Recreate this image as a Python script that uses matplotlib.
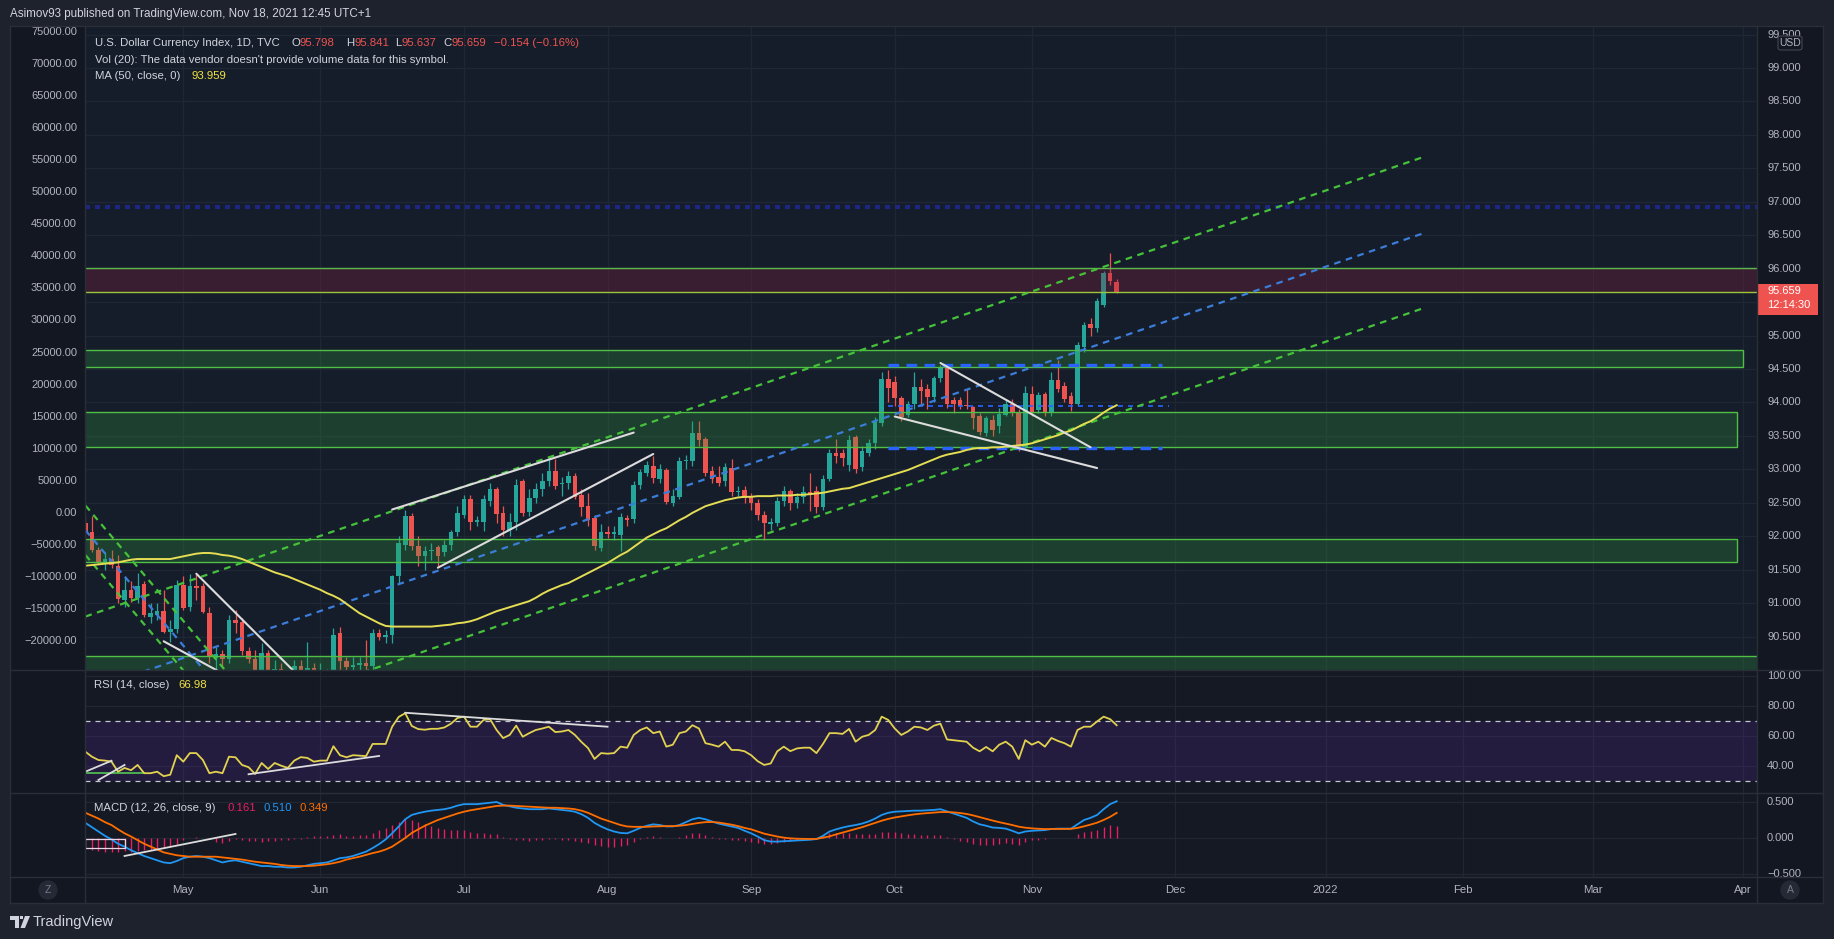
import matplotlib
matplotlib.use("Agg")
import matplotlib.pyplot as plt
import numpy as np
import pandas as pd
from matplotlib.patches import Rectangle, FancyBboxPatch, Polygon
from matplotlib.lines import Line2D
from matplotlib.colors import to_rgba

plt.rcParams['font.family'] = ['Liberation Sans', 'DejaVu Sans']

# ------------------------------------------------------------------ DATA
first_bar = "2021-04-12"   # daily bars (weekdays), Apr 12 2021 -> Nov 18 2021

opens = [92.20, 92.06, 91.80, 91.60, 91.66, 91.56, 91.04, 91.20, 91.08, 91.28,
         90.80, 90.83, 90.88, 90.57, 90.62, 91.27, 90.94, 91.26, 91.25, 90.86,
         90.18, 90.24, 90.17, 90.75, 90.72, 90.28, 90.16, 89.87, 90.25, 89.80,
         90.02, 89.83, 89.66, 90.06, 89.97, 90.03, 89.83, 89.91, 89.93, 90.55,
         90.13, 90.04, 90.08, 90.10, 90.06, 90.55, 90.50, 90.52, 91.40, 91.87,
         92.30, 91.85, 91.71, 91.78, 91.84, 91.77, 91.87, 92.07, 92.32, 92.56,
         92.22, 92.22, 92.52, 92.70, 92.35, 92.10, 92.22, 92.82, 92.37, 92.57,
         92.70, 92.82, 92.97, 92.78, 92.80, 92.90, 92.62, 92.46, 92.28, 91.83,
         92.07, 92.03, 92.02, 92.28, 92.26, 92.77, 92.95, 93.05, 92.86, 92.99,
         92.50, 92.59, 93.12, 93.12, 93.55, 93.45, 92.98, 92.88, 92.82, 93.02,
         92.66, 92.69, 92.59, 92.50, 92.32, 92.18, 92.20, 92.52, 92.67, 92.50,
         92.58, 92.66, 92.67, 92.44, 92.86, 93.25, 93.25, 93.07, 93.49, 93.04,
         93.25, 93.39, 93.70, 94.35, 94.31, 94.07, 93.82, 93.97, 94.23, 94.20,
         94.08, 94.37, 94.52, 94.03, 94.03, 93.96, 93.93, 93.80, 93.55, 93.74,
         93.65, 93.82, 93.97, 93.86, 93.34, 94.13, 93.89, 94.13, 93.85, 94.34,
         94.25, 94.09, 93.97, 94.83, 95.18, 95.12, 95.46, 95.94, 95.798]
highs = [92.32, 92.30, 91.84, 91.76, 91.80, 91.72, 91.40, 91.33, 91.45, 91.33,
         91.00, 91.00, 91.20, 90.75, 91.34, 91.40, 91.43, 91.43, 91.30, 90.95,
         90.35, 90.30, 90.82, 90.90, 90.78, 90.35, 90.30, 90.40, 90.30, 90.15,
         90.10, 89.95, 90.15, 90.15, 90.42, 90.10, 90.10, 90.02, 90.63, 90.65,
         90.20, 90.20, 90.20, 90.45, 90.62, 90.62, 90.60, 91.42, 92.00, 92.40,
         92.35, 92.00, 91.86, 91.90, 91.87, 91.95, 92.10, 92.45, 92.62, 92.62,
         92.30, 92.62, 92.80, 92.74, 92.45, 92.35, 92.85, 92.85, 92.70, 92.80,
         92.95, 93.20, 93.15, 92.88, 92.98, 92.95, 92.70, 92.65, 92.32, 92.18,
         92.15, 92.15, 92.35, 92.32, 92.82, 93.00, 93.12, 93.20, 93.08, 93.02,
         92.70, 93.18, 93.22, 93.73, 93.73, 93.48, 93.05, 93.05, 93.10, 93.15,
         92.75, 92.75, 92.65, 92.55, 92.38, 92.28, 92.58, 92.75, 92.70, 92.65,
         92.75, 92.95, 92.75, 92.92, 93.30, 93.45, 93.30, 93.52, 93.52, 93.35,
         93.45, 93.78, 94.45, 94.48, 94.40, 94.10, 94.02, 94.45, 94.35, 94.28,
         94.40, 94.56, 94.56, 94.08, 94.08, 94.20, 93.95, 93.85, 93.80, 93.82,
         93.92, 94.05, 94.05, 93.90, 94.24, 94.24, 94.15, 94.15, 94.45, 94.64,
         94.30, 94.15, 94.90, 95.20, 95.27, 95.56, 95.97, 96.24, 95.841]
lows = [92.02, 91.76, 91.58, 91.50, 91.52, 91.00, 90.95, 91.02, 91.00, 90.80,
        90.70, 90.75, 90.55, 90.42, 90.55, 90.90, 90.88, 91.05, 90.85, 90.10,
        90.00, 90.05, 90.10, 90.55, 90.22, 90.10, 89.70, 89.70, 89.75, 89.70,
        89.80, 89.53, 89.60, 89.85, 89.90, 89.80, 89.66, 89.80, 89.90, 90.00,
        89.90, 89.95, 89.95, 89.93, 90.00, 90.45, 90.40, 90.40, 91.30, 91.80,
        91.80, 91.55, 91.50, 91.65, 91.55, 91.70, 91.80, 92.00, 92.28, 92.10,
        92.15, 92.08, 92.45, 92.20, 92.00, 92.00, 92.10, 92.30, 92.30, 92.50,
        92.60, 92.75, 92.70, 92.60, 92.70, 92.55, 92.30, 92.15, 91.80, 91.78,
        91.98, 91.95, 91.78, 92.15, 92.20, 92.70, 92.90, 92.80, 92.80, 92.48,
        92.45, 92.55, 93.00, 93.05, 93.35, 92.90, 92.80, 92.75, 92.75, 92.60,
        92.60, 92.50, 92.40, 92.25, 91.95, 92.10, 92.15, 92.45, 92.40, 92.42,
        92.50, 92.38, 92.35, 92.40, 92.82, 93.10, 93.05, 92.98, 92.95, 92.98,
        93.20, 93.30, 93.65, 94.00, 93.95, 93.73, 93.78, 93.90, 93.97, 93.90,
        94.00, 94.30, 93.92, 93.85, 93.90, 93.90, 93.60, 93.52, 93.50, 93.50,
        93.55, 93.80, 93.80, 93.28, 93.30, 93.80, 93.85, 93.80, 93.80, 94.15,
        94.00, 93.88, 93.95, 94.75, 95.00, 95.05, 95.42, 95.75, 95.637]
closes = [92.06, 91.79, 91.61, 91.66, 91.57, 91.06, 91.20, 91.08, 91.26, 90.82,
          90.86, 90.88, 90.57, 90.62, 91.27, 90.93, 91.25, 91.23, 90.87, 90.21,
          90.24, 90.17, 90.75, 90.70, 90.28, 90.16, 89.87, 90.25, 89.80, 90.02,
          89.83, 89.66, 90.06, 89.97, 90.03, 89.83, 89.91, 89.92, 90.52, 90.13,
          90.04, 90.08, 90.10, 90.06, 90.55, 90.50, 90.53, 91.40, 91.90, 92.30,
          91.85, 91.70, 91.78, 91.80, 91.70, 91.87, 92.07, 92.35, 92.55, 92.22,
          92.25, 92.55, 92.70, 92.34, 92.10, 92.22, 92.77, 92.35, 92.57, 92.71,
          92.82, 92.97, 92.75, 92.80, 92.90, 92.59, 92.44, 92.25, 91.86, 92.07,
          92.04, 92.07, 92.29, 92.25, 92.77, 92.96, 93.06, 92.87, 93.01, 92.51,
          92.60, 93.13, 93.14, 93.55, 93.44, 92.95, 92.86, 92.80, 93.04, 92.66,
          92.68, 92.57, 92.50, 92.32, 92.20, 92.22, 92.52, 92.67, 92.50, 92.58,
          92.66, 92.62, 92.44, 92.86, 93.25, 93.20, 93.17, 93.44, 93.00, 93.28,
          93.39, 93.71, 94.35, 94.22, 94.06, 93.79, 93.97, 94.23, 94.17, 94.08,
          94.37, 94.52, 93.98, 93.97, 93.95, 93.94, 93.77, 93.56, 93.77, 93.59,
          93.83, 93.97, 93.84, 93.32, 94.14, 93.85, 94.11, 93.85, 94.33, 94.20,
          94.05, 93.97, 94.86, 95.16, 95.12, 95.52, 95.94, 95.813, 95.659]
ma50 = [91.56, 91.57, 91.58, 91.59, 91.60, 91.61, 91.63, 91.65, 91.66, 91.66,
        91.66, 91.66, 91.66, 91.66, 91.68, 91.70, 91.72, 91.74, 91.75, 91.75,
        91.74, 91.72, 91.71, 91.69, 91.66, 91.62, 91.58, 91.54, 91.50, 91.46,
        91.43, 91.40, 91.36, 91.32, 91.28, 91.24, 91.20, 91.15, 91.11, 91.06,
        90.99, 90.92, 90.85, 90.80, 90.75, 90.70, 90.66, 90.65, 90.65, 90.65,
        90.65, 90.65, 90.65, 90.65, 90.66, 90.67, 90.68, 90.70, 90.71, 90.73,
        90.76, 90.80, 90.84, 90.88, 90.91, 90.94, 90.97, 91.00, 91.03, 91.08,
        91.14, 91.19, 91.23, 91.27, 91.30, 91.35, 91.40, 91.45, 91.50, 91.55,
        91.60, 91.66, 91.72, 91.77, 91.84, 91.91, 91.98, 92.03, 92.08, 92.12,
        92.18, 92.24, 92.29, 92.35, 92.40, 92.45, 92.48, 92.51, 92.54, 92.56,
        92.58, 92.59, 92.59, 92.60, 92.60, 92.60, 92.61, 92.61, 92.61, 92.62,
        92.62, 92.63, 92.64, 92.65, 92.67, 92.69, 92.71, 92.72, 92.75, 92.78,
        92.81, 92.84, 92.87, 92.90, 92.93, 92.96, 92.99, 93.03, 93.07, 93.11,
        93.15, 93.19, 93.22, 93.24, 93.26, 93.29, 93.31, 93.32, 93.32, 93.33,
        93.33, 93.34, 93.35, 93.36, 93.37, 93.39, 93.42, 93.45, 93.48, 93.51,
        93.55, 93.58, 93.63, 93.68, 93.72, 93.78, 93.85, 93.91, 93.959]
rsi = [49.3, 46.0, 43.8, 43.4, 42.7, 36.0, 38.5, 37.0, 40.5, 35.0,
       35.0, 36.0, 33.0, 34.0, 47.0, 42.7, 48.4, 48.4, 43.8, 35.0,
       36.0, 35.0, 46.0, 45.6, 40.5, 39.0, 34.5, 41.8, 37.8, 41.8,
       40.0, 38.5, 43.4, 45.7, 45.2, 42.7, 43.4, 43.4, 53.0, 47.0,
       45.6, 47.0, 46.7, 46.4, 54.5, 54.5, 54.5, 66.0, 72.5, 75.0,
       66.5, 64.4, 64.0, 64.6, 64.6, 65.5, 68.0, 71.8, 72.7, 66.0,
       66.0, 70.5, 71.0, 63.8, 58.4, 60.5, 66.7, 59.3, 61.7, 63.8,
       64.8, 66.0, 62.4, 62.8, 63.8, 60.5, 55.8, 51.8, 44.5, 48.4,
       48.0, 48.4, 52.7, 52.0, 60.5, 63.8, 65.5, 61.7, 62.8, 52.7,
       54.0, 61.7, 62.8, 67.0, 64.8, 55.0, 54.0, 52.7, 56.0, 50.5,
       50.5, 49.6, 47.0, 43.0, 40.5, 41.5, 49.6, 52.7, 49.7, 51.5,
       52.0, 52.0, 48.4, 54.5, 61.7, 61.7, 61.2, 64.5, 56.0, 59.3,
       60.5, 63.8, 72.7, 70.5, 64.8, 60.5, 62.8, 66.0, 65.5, 63.8,
       66.7, 68.0, 57.5, 57.0, 56.5, 56.0, 52.0, 49.6, 52.5, 49.6,
       54.0, 56.0, 52.7, 44.5, 57.0, 54.0, 56.0, 52.7, 58.5, 56.5,
       55.0, 52.7, 63.8, 66.0, 66.0, 69.5, 72.7, 71.0, 66.98]
macd = [0.21, 0.15, 0.09, 0.03, -0.02, -0.08, -0.12, -0.17, -0.21, -0.25,
        -0.28, -0.31, -0.34, -0.35, -0.32, -0.28, -0.26, -0.25, -0.26, -0.28,
        -0.31, -0.34, -0.32, -0.31, -0.33, -0.35, -0.37, -0.39, -0.39, -0.40,
        -0.40, -0.41, -0.41, -0.40, -0.38, -0.36, -0.35, -0.34, -0.31, -0.28,
        -0.27, -0.25, -0.22, -0.19, -0.14, -0.085, -0.02, 0.065, 0.16, 0.26,
        0.32, 0.345, 0.365, 0.38, 0.39, 0.40, 0.42, 0.45, 0.47, 0.47,
        0.47, 0.48, 0.49, 0.50, 0.46, 0.44, 0.42, 0.41, 0.40, 0.40,
        0.40, 0.41, 0.40, 0.39, 0.38, 0.365, 0.33, 0.28, 0.21, 0.16,
        0.12, 0.09, 0.07, 0.065, 0.10, 0.14, 0.17, 0.19, 0.18, 0.16,
        0.16, 0.18, 0.22, 0.26, 0.28, 0.26, 0.23, 0.20, 0.18, 0.16,
        0.14, 0.10, 0.065, 0.02, -0.03, -0.05, -0.05, -0.045, -0.04, -0.035,
        -0.03, -0.025, -0.015, 0.03, 0.09, 0.12, 0.145, 0.165, 0.18, 0.20,
        0.23, 0.27, 0.32, 0.35, 0.365, 0.37, 0.375, 0.38, 0.38, 0.385,
        0.39, 0.40, 0.37, 0.34, 0.31, 0.28, 0.23, 0.19, 0.17, 0.145,
        0.14, 0.13, 0.10, 0.065, 0.09, 0.10, 0.105, 0.11, 0.125, 0.13,
        0.13, 0.13, 0.19, 0.25, 0.28, 0.32, 0.40, 0.47, 0.510]
signal = [0.35, 0.31, 0.27, 0.22, 0.18, 0.12, 0.065, 0.02, -0.03, -0.08,
          -0.12, -0.16, -0.20, -0.22, -0.24, -0.25, -0.26, -0.26, -0.26, -0.26,
          -0.26, -0.27, -0.28, -0.29, -0.30, -0.315, -0.33, -0.34, -0.35, -0.36,
          -0.375, -0.385, -0.39, -0.39, -0.39, -0.385, -0.375, -0.365, -0.35, -0.33,
          -0.30, -0.28, -0.26, -0.235, -0.21, -0.19, -0.16, -0.12, -0.06, 0.0,
          0.07, 0.12, 0.17, 0.21, 0.25, 0.28, 0.31, 0.34, 0.365, 0.385,
          0.40, 0.415, 0.43, 0.445, 0.45, 0.45, 0.445, 0.44, 0.435, 0.43,
          0.425, 0.42, 0.42, 0.415, 0.41, 0.40, 0.38, 0.35, 0.31, 0.27,
          0.24, 0.21, 0.18, 0.16, 0.155, 0.155, 0.155, 0.16, 0.163, 0.165,
          0.165, 0.17, 0.18, 0.195, 0.21, 0.22, 0.222, 0.215, 0.20, 0.185,
          0.165, 0.14, 0.12, 0.09, 0.06, 0.04, 0.02, 0.005, -0.005, -0.01,
          -0.012, -0.014, -0.013, 0.005, 0.022, 0.05, 0.075, 0.10, 0.125, 0.15,
          0.18, 0.21, 0.24, 0.265, 0.285, 0.30, 0.315, 0.328, 0.338, 0.346,
          0.353, 0.36, 0.36, 0.356, 0.347, 0.334, 0.314, 0.29, 0.266, 0.242,
          0.22, 0.20, 0.18, 0.157, 0.143, 0.134, 0.128, 0.124, 0.124, 0.125,
          0.126, 0.127, 0.14, 0.162, 0.186, 0.213, 0.25, 0.294, 0.349]

month_starts = ["2021-05-03", "2021-06-01", "2021-07-01", "2021-08-02", "2021-09-01",
                "2021-10-01", "2021-11-01", "2021-12-01", "2022-01-03", "2022-02-01",
                "2022-03-01", "2022-04-01"]
month_labels = ["May", "Jun", "Jul", "Aug", "Sep", "Oct", "Nov", "Dec", "2022", "Feb", "Mar", "Apr"]

price_ticks = [90.5, 91.0, 91.5, 92.0, 92.5, 93.0, 93.5, 94.0, 94.5, 95.0,
               95.5, 96.0, 96.5, 97.0, 97.5, 98.0, 98.5, 99.0, 99.5]
volume_ticks = [-20000, -15000, -10000, -5000, 0, 5000, 10000, 15000, 20000, 25000,
                30000, 35000, 40000, 45000, 50000, 55000, 60000, 65000, 70000, 75000]
rsi_ticks = [100, 80, 60, 40]
macd_ticks = [0.5, 0.0, -0.5]

# horizontal zones: low, high, last date
zone_lows = [95.65, 94.53, 93.33, 91.61, 89.00]
zone_highs = [96.01, 94.785, 93.855, 91.96, 90.21]
zone_ends = ["2022-04-29", "2022-04-01", "2022-03-31", "2022-03-31", "2022-04-29"]
zone_kinds = ["red", "green", "green", "green", "green"]

# rising parallel channel
channel_dates = ["2021-04-12", "2022-01-24"]
channel_upper = [90.80, 97.67]
channel_mid = [89.68, 96.53]
channel_lower = [88.54, 95.41]
# falling channel (April-May)
fall_dates = ["2021-04-12", "2021-05-18"]
fall_upper = [92.46, 89.47]
fall_mid = [92.09, 89.10]
fall_lower = [91.72, 88.73]

# horizontal blue levels
level_dates = ["2021-09-30", "2021-11-29"]
blue_levels = [94.56, 93.32]
thin_level = 93.95
thin_level_dates = ["2021-09-30", "2021-11-30"]
navy_level = 96.92

# white trend lines on price
price_trendlines = [("2021-05-05", 91.44, "2021-05-27", 89.88),
                    ("2021-04-28", 90.43, "2021-05-11", 89.95),
                    ("2021-06-16", 92.40, "2021-08-06", 93.55),
                    ("2021-06-25", 91.53, "2021-08-11", 93.23),
                    ("2021-10-12", 94.59, "2021-11-12", 93.33),
                    ("2021-10-01", 93.79, "2021-11-15", 93.02)]
rsi_trendlines = [("2021-04-12", 36.0, "2021-04-16", 43.3),
                  ("2021-04-14", 30.5, "2021-04-20", 40.5),
                  ("2021-05-17", 34.3, "2021-06-14", 46.5),
                  ("2021-06-18", 75.3, "2021-08-02", 66.0)]
rsi_green_line = ("2021-04-12", 35.0, "2021-04-23", 35.0)
macd_trendline = ("2021-04-20", -0.25, "2021-05-13", 0.056)
macd_box = ("2021-04-12", "2021-04-20", -0.143, -0.018)

# ------------------------------------------------------------------ SETUP
W, H = 1834, 939
BG_FIG = '#1e222d'
BG_AXIS = '#131722'
BG_MAIN = '#161d2a'
BG_SUB = '#141923'
GRID = '#1f2634'
SEP = '#2a2e39'
TXT = '#b2b5be'
LEG = '#d1d4dc'
UP = '#26a69a'
DN = '#ef5350'

dates = pd.bdate_range(first_bar, periods=320)
pos = {d.strftime('%Y-%m-%d'): i for i, d in enumerate(dates)}


def xi(s):
    return pos[s]


n = len(closes)
xs = np.arange(n)

fig = plt.figure(figsize=(W / 100, H / 100), dpi=100, facecolor=BG_FIG)


def frect(x0, y0, x1, y1):
    return [x0 / W, 1 - y1 / H, (x1 - x0) / W, (y1 - y0) / H]


def fx(x):
    return x / W


def fy(y):
    return 1 - y / H


def clean(a, face):
    a.set_facecolor(face)
    a.tick_params(left=False, bottom=False, right=False, top=False,
                  labelleft=False, labelbottom=False)
    for s in a.spines.values():
        s.set_visible(False)


XL = (-0.06, 256.1)
YMAIN = (90.001, 99.628)
YVOL = (-24524, 75936)
YRSI = (21.8, 103.8)
YMACD = (-0.542, 0.625)

ax = fig.add_axes(frect(85, 26, 1757, 670))
ax_rsi = fig.add_axes(frect(85, 670, 1757, 793))
ax_macd = fig.add_axes(frect(85, 793, 1757, 877))
ax_time = fig.add_axes(frect(85, 877, 1757, 903))
for a, face in [(ax, BG_MAIN), (ax_rsi, BG_SUB), (ax_macd, BG_SUB), (ax_time, BG_AXIS)]:
    clean(a, face)
    a.set_xlim(*XL)
ax.set_ylim(*YMAIN)
ax_rsi.set_ylim(*YRSI)
ax_macd.set_ylim(*YMACD)
ax_time.set_ylim(0, 1)

ax_l = fig.add_axes(frect(10, 26, 85, 670))
ax_r = fig.add_axes(frect(1757, 26, 1823, 670))
ax_lr = fig.add_axes(frect(10, 670, 85, 793))
ax_rr = fig.add_axes(frect(1757, 670, 1823, 793))
ax_lm = fig.add_axes(frect(10, 793, 85, 877))
ax_rm = fig.add_axes(frect(1757, 793, 1823, 877))
ax_lt = fig.add_axes(frect(10, 877, 85, 903))
ax_rt = fig.add_axes(frect(1757, 877, 1823, 903))
for a in [ax_l, ax_r, ax_lr, ax_rr, ax_lm, ax_rm, ax_lt, ax_rt]:
    clean(a, BG_AXIS)
    a.set_xlim(0, 1)
ax_l.set_ylim(*YVOL)
ax_r.set_ylim(*YMAIN)
ax_rr.set_ylim(*YRSI)
ax_rm.set_ylim(*YMACD)

# grids
mx = [xi(d) for d in month_starts]
for a in [ax, ax_rsi, ax_macd]:
    for m in mx:
        a.axvline(m, color=GRID, lw=0.9, zorder=0.5)
for p in price_ticks:
    ax.axhline(p, color=GRID, lw=0.9, zorder=0.5)
for r in rsi_ticks:
    ax_rsi.axhline(r, color=GRID, lw=0.9, zorder=0.5)
for m in macd_ticks:
    ax_macd.axhline(m, color=GRID, lw=0.9, zorder=0.5)

# ------------------------------------------------------------------ CANDLES
o = np.array(opens[:n]); h = np.array(highs[:n]); l = np.array(lows[:n]); c = np.array(closes[:n])
up = c >= o
cols = np.where(up, UP, DN)
bot = np.minimum(o, c)
hgt = np.maximum(np.abs(c - o), 0.012)
ax.vlines(xs, np.minimum(l, bot), np.maximum(h, bot + hgt), colors=cols, lw=0.9, zorder=2)
ax.bar(xs, hgt, bottom=bot, width=0.7, color=cols, edgecolor='none', zorder=2.1)

# ------------------------------------------------------------------ ZONES
x_left = -5
for lo, hi, end, kind in zip(zone_lows, zone_highs, zone_ends, zone_kinds):
    x1 = xi(end)
    if kind == 'red':
        ax.add_patch(Rectangle((x_left, lo), x1 - x_left, hi - lo,
                               facecolor=to_rgba('#8b1e3f', 0.30), edgecolor='none', zorder=3))
        ax.plot([x_left, x1], [hi, hi], color='#5cb84a', lw=1.0, zorder=3.2)
        ax.plot([x_left, x1], [lo, lo], color='#9cc63a', lw=1.0, zorder=3.2)
    else:
        ax.add_patch(Rectangle((x_left, lo), x1 - x_left, hi - lo,
                               facecolor=to_rgba('#2e9e3e', 0.27),
                               edgecolor='#4fbf45', lw=1.0, zorder=3))

# navy dotted level
ax.axhline(navy_level, color='#1d2683', lw=3.0, ls=(0, (1.2, 1.2)), zorder=3.5)

# blue levels
for lv in blue_levels:
    ax.plot([xi(level_dates[0]), xi(level_dates[1])], [lv, lv], color='#2962ff',
            lw=2.4, ls=(0, (3.2, 2.2)), zorder=4)
ax.plot([xi(thin_level_dates[0]), xi(thin_level_dates[1])], [thin_level, thin_level],
        color='#2962ff', lw=1.2, ls=(0, (3, 3)), zorder=4)

# channels
cx = [xi(d) for d in channel_dates]
ax.plot(cx, channel_upper, color='#45c23a', lw=1.6, ls=(0, (3, 2.5)), zorder=4)
ax.plot(cx, channel_lower, color='#45c23a', lw=1.6, ls=(0, (3, 2.5)), zorder=4)
ax.plot(cx, channel_mid, color='#3b7dd8', lw=1.6, ls=(0, (3, 2.5)), zorder=4)
fx_ = [xi(d) for d in fall_dates]
ax.plot(fx_, fall_upper, color='#45c23a', lw=1.6, ls=(0, (3, 2.5)), zorder=4)
ax.plot(fx_, fall_lower, color='#45c23a', lw=1.6, ls=(0, (3, 2.5)), zorder=4)
ax.plot(fx_, fall_mid, color='#3b7dd8', lw=1.6, ls=(0, (3, 2.5)), zorder=4)

# MA
ax.plot(xs, ma50[:n], color='#e5de55', lw=1.4, zorder=4.5)

# white trendlines
for d0, p0, d1, p1 in price_trendlines:
    ax.plot([xi(d0), xi(d1)], [p0, p1], color='#dcdcdc', lw=1.5, zorder=5,
            solid_capstyle='round')

# ------------------------------------------------------------------ RSI
ax_rsi.axhspan(30, 70, facecolor=to_rgba('#5b2aa0', 0.22), edgecolor='none', zorder=0.6)
for lv in (70, 30):
    ax_rsi.axhline(lv, color='#c5c8d0', lw=0.9, ls=(0, (4, 4)), zorder=1)
d0, r0, d1, r1 = rsi_green_line
ax_rsi.plot([xi(d0), xi(d1)], [r0, r1], color='#4caf50', lw=1.4, zorder=2)
ax_rsi.plot(xs, rsi[:n], color='#e2d24f', lw=1.3, zorder=3)
for d0, r0, d1, r1 in rsi_trendlines:
    ax_rsi.plot([xi(d0), xi(d1)], [r0, r1], color='#dcdcdc', lw=1.3, zorder=4)

# ------------------------------------------------------------------ MACD
mc = np.array(macd[:n]); sg = np.array(signal[:n])
hist = mc - sg
ax_macd.vlines(xs, 0, hist, colors='#e91e63', lw=1.0, zorder=2)
ax_macd.plot(xs, mc, color='#2196f3', lw=1.3, zorder=3)
ax_macd.plot(xs, sg, color='#ff6d00', lw=1.3, zorder=3)
d0, m0, d1, m1 = macd_trendline
ax_macd.plot([xi(d0), xi(d1)], [m0, m1], color='#dcdcdc', lw=1.3, zorder=4)
bd0, bd1, bl, bh = macd_box
ax_macd.add_patch(Rectangle((xi(bd0), bl), xi(bd1) - xi(bd0), bh - bl, facecolor='none',
                            edgecolor='#e8d6e4', lw=0.9, zorder=4))

# ------------------------------------------------------------------ AXIS LABELS
last = c[-1]
box_top = last + 0.112
box_bot = last - 0.351
lx_r = 10 / 66
for p in price_ticks:
    if box_bot - 0.09 < p < box_top + 0.09:
        continue   # hidden behind the last-price label, as on the original
    ax_r.text(lx_r, p, f"{p:.3f}", color=TXT, fontsize=8, va='center', ha='left', clip_on=True)
lx_l = 67 / 75
for v in volume_ticks:
    s = f"{abs(v):.2f}"
    if v < 0:
        s = "\u2212" + s
    ax_l.text(lx_l, v, s, color=TXT, fontsize=8, va='center', ha='right', clip_on=True)
for r in rsi_ticks:
    ax_rr.text(lx_r, r, f"{r:.2f}", color=TXT, fontsize=8, va='center', ha='left', clip_on=True)
for m in macd_ticks:
    s = f"{abs(m):.3f}"
    if m < 0:
        s = "\u2212" + s
    ax_rm.text(lx_r, m, s, color=TXT, fontsize=8, va='center', ha='left', clip_on=True)
for m, lab in zip(mx, month_labels):
    ax_time.text(m, 0.5, lab, color=TXT, fontsize=8.2, va='center', ha='center', clip_on=True)

# last price label
ax_r.add_patch(Rectangle((0, box_bot), 61 / 66, box_top - box_bot, facecolor='#ef5350',
                         edgecolor='none', zorder=5, clip_on=False))
ax_r.text(lx_r, last + 0.01, f"{last:.3f}", color='white', fontsize=8, va='center', ha='left', zorder=6)
ax_r.text(lx_r, last - 0.205, "12:14:30", color='white', fontsize=8, va='center', ha='left', zorder=6)

# USD badge
fig.add_artist(FancyBboxPatch((fx(1778), fy(50)), fx(1802) - fx(1778), fy(36) - fy(50),
                              boxstyle='round,pad=0.0,rounding_size=0.002',
                              transform=fig.transFigure, facecolor=BG_AXIS,
                              edgecolor='#434651', lw=0.8, zorder=10))
fig.text(fx(1790), fy(43), "USD", color=TXT, fontsize=7.5, ha='center', va='center', zorder=11)

# ------------------------------------------------------------------ TEXTS
renderer = fig.canvas.get_renderer()


def seg_text(y, segs, size=8.2):
    cur = 0
    for s, color, x in segs:
        if x is not None:
            cur = x
        t = fig.text(fx(cur), fy(y), s, color=color, fontsize=size, ha='left', va='center', zorder=20)
        cur += t.get_window_extent(renderer=renderer).width


fig.text(fx(10), fy(14), "Asimov93 published on TradingView.com, Nov 18, 2021 12:45 UTC+1",
         color=LEG, fontsize=8.4, ha='left', va='center')

chg = c[-1] - c[-2]
pct = chg / c[-2] * 100
sgn = "\u2212" if chg < 0 else "+"
chg_s = f"{sgn}{abs(chg):.3f} ({sgn}{abs(pct):.2f}%)"
seg_text(43, [("U.S. Dollar Currency Index, 1D, TVC", LEG, 95),
              ("O", LEG, 291), (f"{o[-1]:.3f}", DN, None),
              ("H", LEG, 346), (f"{h[-1]:.3f}", DN, None),
              ("L", LEG, 395), (f"{l[-1]:.3f}", DN, None),
              ("C", LEG, 443), (f"{c[-1]:.3f}", DN, None),
              (chg_s, DN, 494)])
seg_text(60, [("Vol (20): The data vendor doesn't provide volume data for this symbol.", LEG, 95)])
seg_text(76, [("MA (50, close, 0)", LEG, 95), (f"{ma50[n - 1]:.3f}", '#f0e442', 192)])
seg_text(685, [("RSI (14, close)", LEG, 94), (f"{rsi[n - 1]:.2f}", '#f0e442', 178)])
seg_text(808, [("MACD (12, 26, close, 9)", LEG, 94), (f"{hist[-1]:.3f}", '#e91e63', 227),
               (f"{mc[-1]:.3f}", '#2196f3', 263), (f"{sg[-1]:.3f}", '#ff6d00', 300)])

# round buttons
fig.text(fx(48), fy(890), "Z", color='#787b86', fontsize=7.5, ha='center', va='center',
         bbox=dict(boxstyle='circle,pad=0.45', fc='#252935', ec='none'))
fig.text(fx(1790), fy(890), "A", color='#787b86', fontsize=7.5, ha='center', va='center',
         bbox=dict(boxstyle='circle,pad=0.45', fc='#252935', ec='none'))

# TradingView logo
logo_col = '#d1d4dc'
fig.add_artist(Polygon([(fx(10), fy(916)), (fx(19), fy(916)), (fx(19), fy(928)),
                        (fx(15), fy(928)), (fx(15), fy(920)), (fx(10), fy(920))],
                       closed=True, transform=fig.transFigure, facecolor=logo_col, edgecolor='none'))
fig.add_artist(Polygon([(fx(20), fy(916)), (fx(23), fy(916)), (fx(23), fy(919)), (fx(20), fy(919))],
                       closed=True, transform=fig.transFigure, facecolor=logo_col, edgecolor='none'))
fig.add_artist(Polygon([(fx(25), fy(916)), (fx(30), fy(916)), (fx(25), fy(928)), (fx(20.5), fy(928))],
                       closed=True, transform=fig.transFigure, facecolor=logo_col, edgecolor='none'))
fig.text(fx(33), fy(922), "TradingView", color=logo_col, fontsize=10.5, ha='left', va='center')

# ------------------------------------------------------------------ SEPARATORS
def fline(x0, y0, x1, y1, col=SEP, lw=1.0):
    fig.add_artist(Line2D([fx(x0), fx(x1)], [fy(y0), fy(y1)], transform=fig.transFigure,
                          color=col, lw=lw, zorder=30))


fline(85, 26, 85, 903)
fline(1757, 26, 1757, 903)
for yy in (670, 793, 877):
    fline(10, yy, 1823, yy)
fline(10, 26, 1823, 26)
fline(10, 903, 1823, 903)
fline(10, 26, 10, 903)
fline(1823, 26, 1823, 903)

fig.savefig("out.png", dpi=100, facecolor=BG_FIG)
